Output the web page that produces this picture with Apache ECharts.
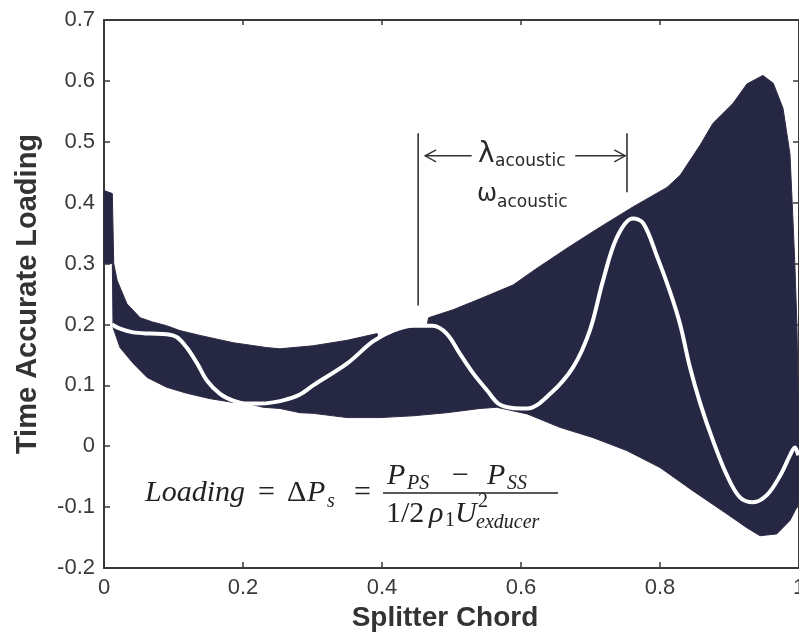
<!DOCTYPE html>
<html><head><meta charset="utf-8">
<script src="https://cdn.jsdelivr.net/npm/echarts@6/dist/echarts.min.js"></script>
<style>html,body{margin:0;padding:0;background:#fff}#c{width:799px;height:637px}</style>
</head><body><div id="c"></div>
<script>
// ---- data ----
const xTickValues = [0, 0.2, 0.4, 0.6, 0.8, 1];
const yTickValues = [-0.2, -0.1, 0, 0.1, 0.2, 0.3, 0.4, 0.5, 0.6, 0.7];

// upper edge of the band of time-accurate loading snapshots
const bandUpper = [
  [0,0.42],[0.012,0.415],[0.014,0.30],[0.019,0.272],[0.033,0.234],[0.052,0.211],[0.07,0.204],
  [0.09,0.198],[0.109,0.19],[0.138,0.182],[0.186,0.17],[0.234,0.162],[0.253,0.16],[0.301,0.165],
  [0.35,0.174],[0.393,0.185],[0.394,0.176],[0.416,0.19],[0.445,0.198],[0.465,0.199],[0.467,0.211],
  [0.502,0.224],[0.541,0.242],[0.589,0.265],[0.62,0.29],[0.666,0.325],[0.714,0.36],[0.761,0.393],
  [0.81,0.425],[0.829,0.445],[0.858,0.495],[0.876,0.53],[0.905,0.563],[0.925,0.595],[0.948,0.609],
  [0.963,0.596],[0.977,0.555],[0.987,0.48],[0.991,0.38],[0.994,0.3],[0.997,0.2],[0.999,0.08],[1.0,0.0]
];
// lower edge of the band
const bandLower = [
  [0,0.30],[0.012,0.30],[0.013,0.195],[0.023,0.162],[0.042,0.136],[0.062,0.113],[0.09,0.097],
  [0.119,0.087],[0.153,0.078],[0.186,0.072],[0.207,0.07],[0.229,0.064],[0.253,0.062],[0.282,0.055],
  [0.301,0.054],[0.35,0.047],[0.397,0.047],[0.445,0.05],[0.493,0.055],[0.541,0.062],[0.565,0.064],
  [0.609,0.053],[0.656,0.031],[0.704,0.014],[0.752,-0.007],[0.8,-0.035],[0.847,-0.073],[0.896,-0.111],
  [0.925,-0.134],[0.944,-0.147],[0.968,-0.144],[0.987,-0.122],[0.997,-0.1],[1.0,-0.09]
];
// single highlighted snapshot (white curve)
const snapshot = [
  [0.0115,0.2],[0.023,0.193],[0.042,0.187],[0.066,0.185],[0.09,0.184],[0.105,0.179],[0.119,0.162],
  [0.134,0.136],[0.148,0.108],[0.167,0.086],[0.186,0.075],[0.206,0.07],[0.224,0.07],[0.243,0.072],
  [0.263,0.077],[0.282,0.085],[0.301,0.1],[0.35,0.136],[0.387,0.172],[0.416,0.19],[0.445,0.198],
  [0.473,0.198],[0.493,0.185],[0.512,0.152],[0.531,0.12],[0.551,0.092],[0.57,0.068],[0.6,0.062],
  [0.609,0.062],[0.642,0.086],[0.675,0.13],[0.699,0.19],[0.718,0.272],[0.738,0.343],[0.761,0.374],
  [0.776,0.366],[0.796,0.311],[0.814,0.255],[0.829,0.2],[0.843,0.13],[0.858,0.07],[0.876,0.01],
  [0.896,-0.047],[0.915,-0.084],[0.934,-0.092],[0.954,-0.08],[0.973,-0.048],[0.987,-0.015],
  [0.994,-0.002],[0.999,-0.015]
];
// wavelength marker bars: [x, yFrom, yTo]
const lambdaBars = [[0.452,0.231,0.514],[0.7525,0.417,0.514]];
// arrows: [xFrom, xTo, y, headSide(-1 left / +1 right)]
const lambdaArrows = [[0.462,0.529,0.477,-1],[0.678,0.750,0.477,1]];

// ---- chart ----
const chart = echarts.init(document.getElementById('c'), null, {renderer:'canvas'});
const AX = '#3a3a3a';
const fmt = v => String(+(+v).toFixed(1));

const formulaPieces = [
  ['Loading', 145, 493, 30, 'italic'],
  ['=', 258, 493, 30, 'normal'],
  ['\u0394', 287, 493, 30, 'normal'],
  ['P', 307, 493, 30, 'italic'],
  ['s', 327, 502, 20, 'italic'],
  ['=', 354, 493, 30, 'normal'],
  ['P', 387, 476, 30, 'italic'],
  ['PS', 407, 484, 20, 'italic'],
  ['\u2212', 452, 476, 30, 'normal'],
  ['P', 487, 476, 30, 'italic'],
  ['SS', 507, 484, 20, 'italic'],
  ['1/2', 386, 514, 30, 'normal'],
  ['\u03c1', 429, 514, 30, 'italic'],
  ['1', 445, 521, 20, 'normal'],
  ['U', 455, 514, 30, 'italic'],
  ['2', 478, 502, 20, 'normal'],
  ['exducer', 476, 523, 20, 'italic']
];
const graphics = formulaPieces.map(p => ({
  type:'text', x:p[1], y:p[2], silent:true, z:100,
  style:{text:p[0], fontSize:p[3], fontStyle:p[4], fontFamily:'"Liberation Serif", serif',
         fill:'#222', align:'left', verticalAlign:'middle'}
}));
graphics.push({type:'line', silent:true, z:100, shape:{x1:383,y1:493,x2:558,y2:493}, style:{stroke:'#222', lineWidth:1.5}});
// lambda / omega labels
const annFont = '"DejaVu Sans", sans-serif';
graphics.push(
  {type:'text', x:478, y:155, z:100, style:{text:'\u03bb', fontSize:28, fontFamily:annFont, fill:'#2a2a2a', verticalAlign:'middle'}},
  {type:'text', x:495, y:162, z:100, style:{text:'acoustic', fontSize:17, fontFamily:annFont, fill:'#2a2a2a', verticalAlign:'middle'}},
  {type:'text', x:477, y:195, z:100, style:{text:'\u03c9', fontSize:24, fontFamily:annFont, fill:'#2a2a2a', verticalAlign:'middle'}},
  {type:'text', x:497, y:203, z:100, style:{text:'acoustic', fontSize:17, fontFamily:annFont, fill:'#2a2a2a', verticalAlign:'middle'}}
);

const option = {
  animation:false,
  backgroundColor:'#fff',
  grid:{left:104, top:20, right:0, bottom:69, containLabel:false, outerBoundsMode:'none'},
  xAxis:[{
    type:'value', min:0, max:1, interval:0.2, position:'bottom',
    name:'Splitter Chord', nameLocation:'middle', nameGap:34,
    nameTextStyle:{fontFamily:'"Liberation Sans", Arial, sans-serif', fontWeight:'bold', fontSize:28, color:'#333', padding:[0,13,0,0]},
    axisLine:{show:true, onZero:false, lineStyle:{color:AX, width:2}},
    axisTick:{show:true, inside:true, length:6, lineStyle:{color:AX, width:1.5}},
    axisLabel:{show:true, margin:9, fontSize:22, color:'#3a3a3a', fontFamily:'"Liberation Sans", Arial, sans-serif', formatter:fmt},
    splitLine:{show:false}
  },{
    type:'value', min:0, max:1, interval:0.2, position:'top',
    axisLine:{show:true, onZero:false, lineStyle:{color:AX, width:2}},
    axisTick:{show:true, inside:true, length:5, lineStyle:{color:AX, width:1.5}},
    axisLabel:{show:false}, splitLine:{show:false}
  }],
  yAxis:[{
    type:'value', min:-0.2, max:0.7, interval:0.1, position:'left',
    name:'Time Accurate Loading', nameLocation:'middle', nameGap:62,
    nameTextStyle:{fontFamily:'"Liberation Sans", Arial, sans-serif', fontWeight:'bold', fontSize:29, color:'#333'},
    axisLine:{show:true, onZero:false, lineStyle:{color:AX, width:2}},
    axisTick:{show:true, inside:true, length:6, lineStyle:{color:AX, width:1.5}},
    axisLabel:{show:true, margin:9, fontSize:22, color:'#3a3a3a', fontFamily:'"Liberation Sans", Arial, sans-serif', formatter:fmt},
    splitLine:{show:false}
  },{
    type:'value', min:-0.2, max:0.7, interval:0.1, position:'right',
    axisLine:{show:true, onZero:false, lineStyle:{color:AX, width:2}},
    axisTick:{show:true, inside:true, length:6, lineStyle:{color:AX, width:1.5}},
    axisLabel:{show:false}, splitLine:{show:false}
  }],
  series:[
    {
      type:'custom', name:'band', coordinateSystem:'cartesian2d', xAxisIndex:0, yAxisIndex:0,
      data:[[0,0]], encode:{x:0, y:1}, silent:true, z:2,
      renderItem:(params, api) => {
        const pts = bandUpper.concat(bandLower.slice().reverse()).map(p => api.coord(p));
        return {type:'polygon', shape:{points:pts}, style:{fill:'#262843', stroke:'#2f2b44', lineWidth:1}};
      }
    },
    {
      type:'line', name:'snapshot', xAxisIndex:0, yAxisIndex:0, data:snapshot,
      smooth:0.35, showSymbol:false, silent:true, z:3,
      lineStyle:{color:'#ffffff', width:4}
    },
    {
      type:'custom', name:'annotation', coordinateSystem:'cartesian2d', xAxisIndex:0, yAxisIndex:0,
      data:[[0.5,0.5]], encode:{x:0, y:1}, silent:true, z:5,
      renderItem:(params, api) => {
        const children = [];
        lambdaBars.forEach(b => {
          const a = api.coord([b[0], b[1]]), c = api.coord([b[0], b[2]]);
          children.push({type:'line', shape:{x1:a[0], y1:a[1], x2:c[0], y2:c[1]}, style:{stroke:'#333', lineWidth:1.6}});
        });
        lambdaArrows.forEach(r => {
          const a = api.coord([r[0], r[2]]), c = api.coord([r[1], r[2]]);
          children.push({type:'line', shape:{x1:a[0], y1:a[1], x2:c[0], y2:c[1]}, style:{stroke:'#333', lineWidth:1.4}});
          const h = r[3] < 0 ? a : c, d = r[3] < 0 ? 1 : -1;
          children.push({type:'polyline', shape:{points:[[h[0]+d*11, h[1]-6],[h[0], h[1]],[h[0]+d*11, h[1]+6]]}, style:{stroke:'#333', lineWidth:1.4, fill:null}});
        });
        return {type:'group', children};
      }
    }
  ],
  graphic:graphics
};
chart.setOption(option);
</script>
</body></html>
